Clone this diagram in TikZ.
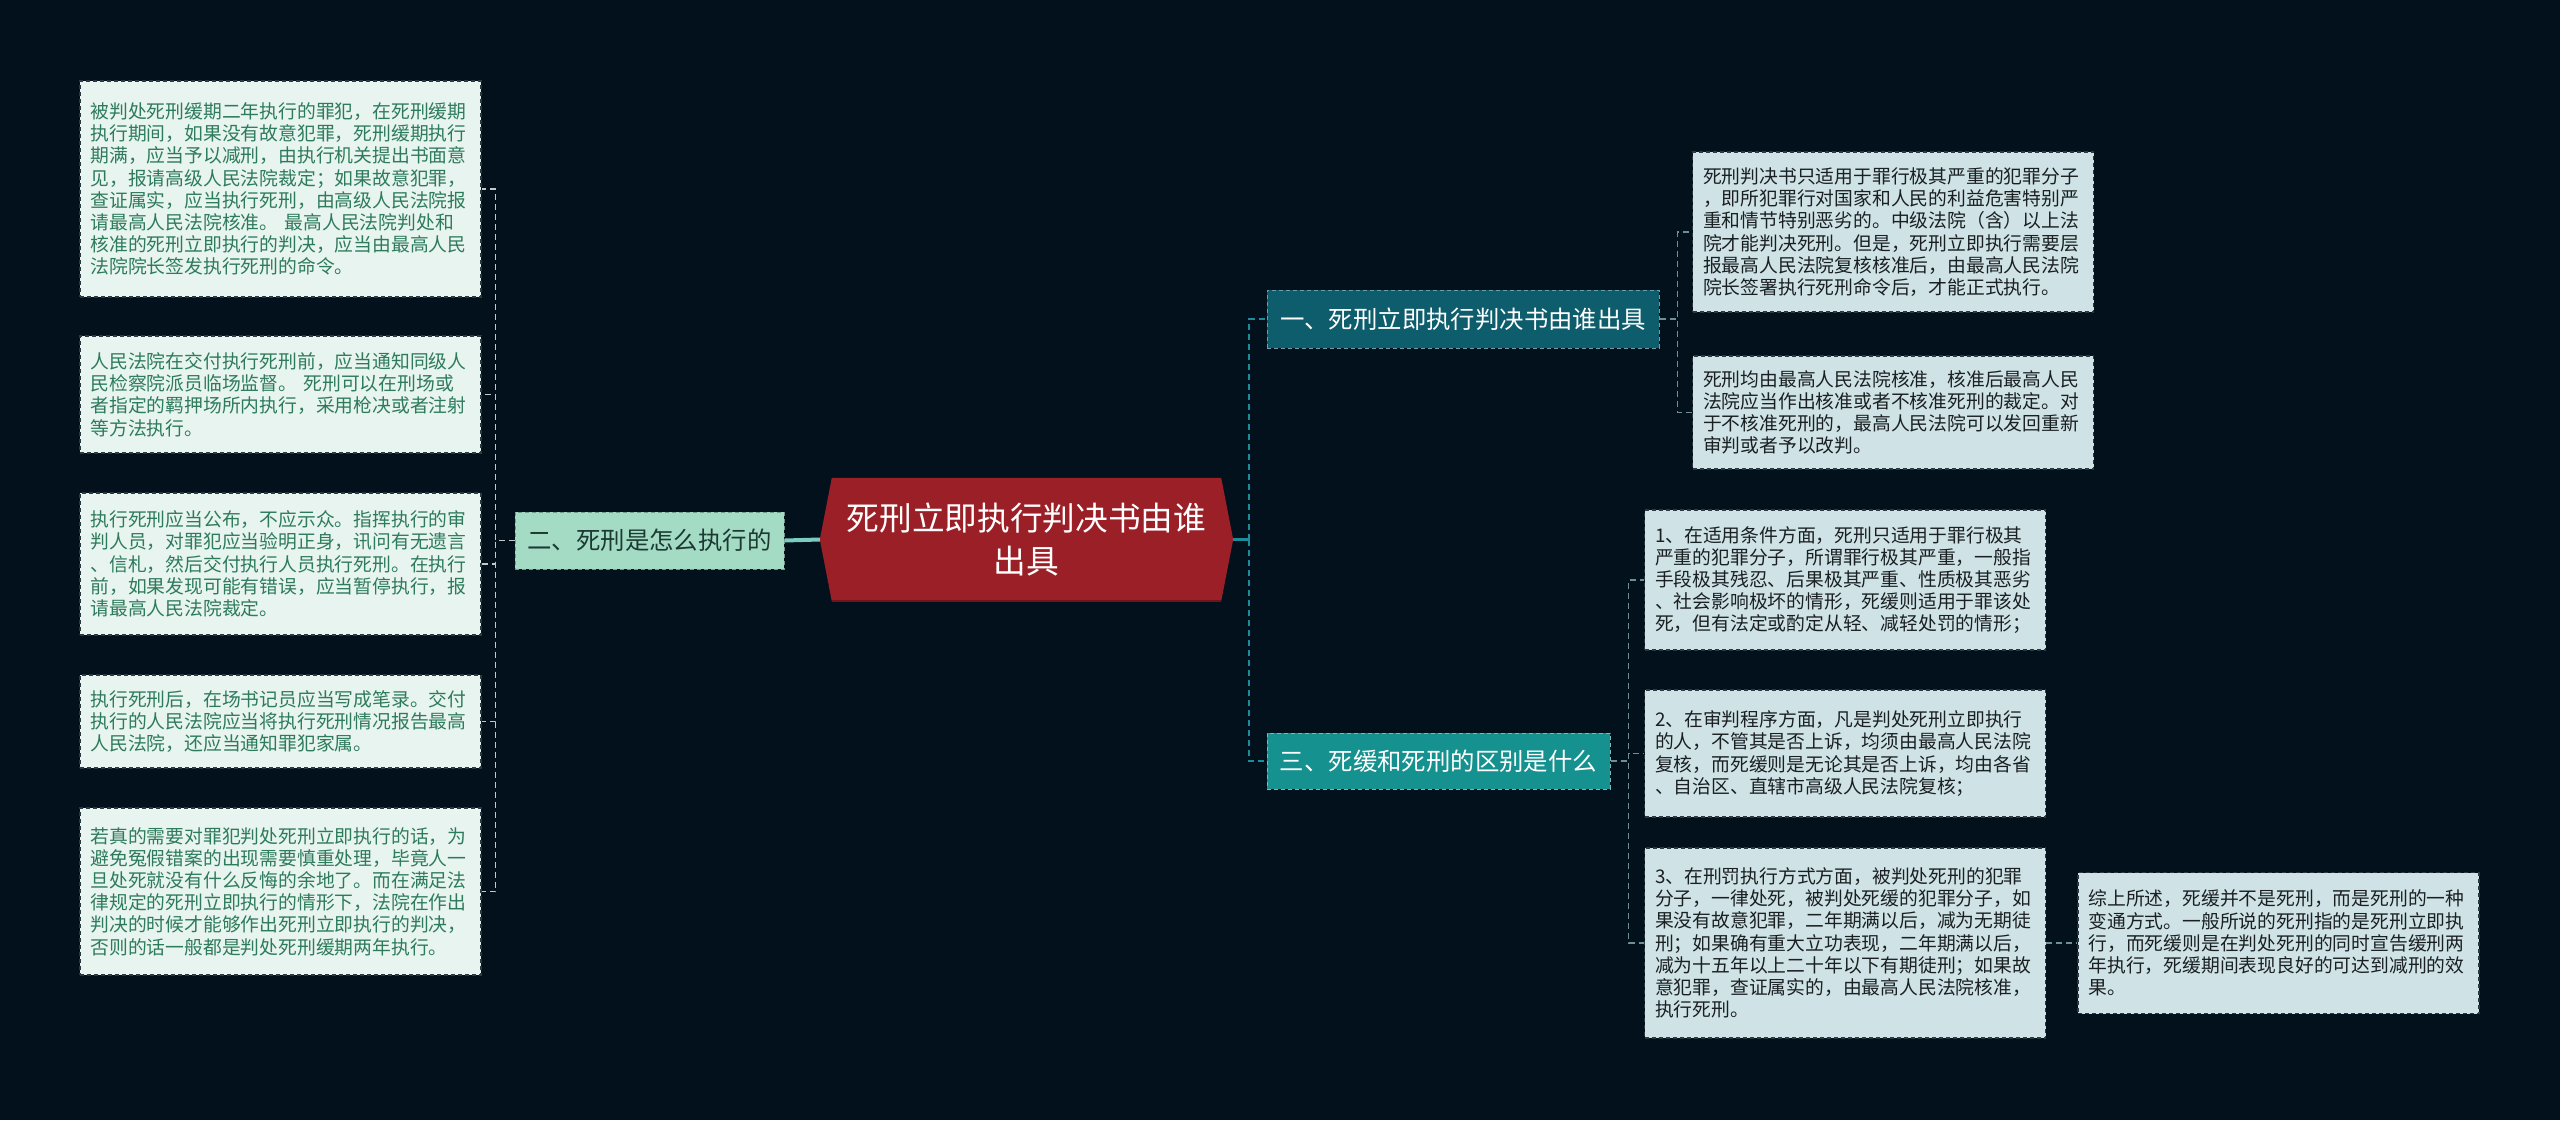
\documentclass[tikz,border=0pt]{standalone}
\usepackage{fontspec}
\setmainfont{Noto Sans CJK SC}
\usetikzlibrary{backgrounds}
\definecolor{bg}{HTML}{02111B}
\definecolor{rootfill}{HTML}{9B1F26}
\definecolor{bonefill}{HTML}{0D5D6C}
\definecolor{bthreefill}{HTML}{15918F}
\definecolor{btwofill}{HTML}{A3DBC5}
\definecolor{btwotext}{HTML}{1C3A32}
\definecolor{lleaffill}{HTML}{E7F4EF}
\definecolor{lleaftext}{HTML}{2E7B5C}
\definecolor{rleaffill}{HTML}{CFE3E6}
\definecolor{rleaftext}{HTML}{1A1F22}
\definecolor{leafborder}{HTML}{2A3A40}
\definecolor{rbus}{HTML}{1C8B9A}
\definecolor{rlink}{HTML}{6F8F96}
\definecolor{llink}{HTML}{C4CACA}
\definecolor{rootlink}{HTML}{7CCBC0}
\tikzset{
  leafbase/.style={draw=leafborder, dash pattern=on 4pt off 3pt, line width=1.6pt,
    font=\fontsize{18.8}{22.2}\selectfont, align=left, text width=380pt,
    inner xsep=10.5pt, inner ysep=0pt, anchor=center},
  lleaf/.style={leafbase, fill=lleaffill, text=lleaftext},
  rleaf/.style={leafbase, fill=rleaffill, text=rleaftext},
  branch/.style={draw, dash pattern=on 4pt off 3pt, line width=1pt,
    font=\fontsize{24.4}{28}\selectfont, inner xsep=0pt, inner ysep=0pt, anchor=center},
  rconnbus/.style={draw=rbus, dash pattern=on 6pt off 4pt, line width=1.6pt},
  rconn/.style={draw=rlink, dash pattern=on 6pt off 4pt, line width=1.5pt},
  lconn/.style={draw=llink, dash pattern=on 6pt off 4pt, line width=1.5pt},
}
\begin{document}
\begin{tikzpicture}[x=1pt,y=-1pt]
\begin{pgfonlayer}{background}
\fill[bg] (0,0) rectangle (2560,1120);
\end{pgfonlayer}
\useasboundingbox (0,0) rectangle (2560,1120);

% root
\node[minimum width=413pt, minimum height=123pt, inner sep=0pt, align=center,
  text=white, font=\fontsize{32.7}{43.6}\selectfont] (root) at (1026.5,539.5)
  {死刑立即执行判决书由谁\\出具};
\begin{pgfonlayer}{background}
\fill[rootfill] ([xshift=12pt]root.north west) -- ([xshift=-12pt]root.north east)
  -- (root.east) -- ([xshift=-12pt]root.south east) -- ([xshift=12pt]root.south west)
  -- (root.west) -- cycle;
\draw[rootfill!70!black, line width=2pt] ([xshift=12pt]root.south west) -- ([xshift=-12pt]root.south east);
\end{pgfonlayer}

% branches
\node[branch, draw=btwofill!70!black, fill=btwofill, text=btwotext,
  minimum width=269pt, minimum height=57pt] (b2) at (649.5,540.5) {二、死刑是怎么执行的};
\node[branch, draw=bonefill!60!white, fill=bonefill, text=white,
  minimum width=392pt, minimum height=58pt] (b1) at (1463,319) {一、死刑立即执行判决书由谁出具};
\node[branch, draw=bthreefill!60!white, fill=bthreefill, text=white,
  minimum width=343pt, minimum height=56pt] (b3) at (1438.5,761) {三、死缓和死刑的区别是什么};

% left leaves
\node[lleaf, minimum height=216pt] (l1) at (280.5,189) {被判处死刑缓期二年执行的罪犯，在死刑缓期\\执行期间，如果没有故意犯罪，死刑缓期执行\\期满，应当予以减刑，由执行机关提出书面意\\见，报请高级人民法院裁定；如果故意犯罪，\\查证属实，应当执行死刑，由高级人民法院报\\请最高人民法院核准。 最高人民法院判处和\\核准的死刑立即执行的判决，应当由最高人民\\法院院长签发执行死刑的命令。};
\node[lleaf, minimum height=117pt] (l2) at (280.5,394.5) {人民法院在交付执行死刑前，应当通知同级人\\民检察院派员临场监督。 死刑可以在刑场或\\者指定的羁押场所内执行，采用枪决或者注射\\等方法执行。};
\node[lleaf, minimum height=142pt] (l3) at (280.5,564) {执行死刑应当公布，不应示众。指挥执行的审\\判人员，对罪犯应当验明正身，讯问有无遗言\\、信札，然后交付执行人员执行死刑。在执行\\前，如果发现可能有错误，应当暂停执行，报\\请最高人民法院裁定。};
\node[lleaf, minimum height=93pt] (l4) at (280.5,721.5) {执行死刑后，在场书记员应当写成笔录。交付\\执行的人民法院应当将执行死刑情况报告最高\\人民法院，还应当通知罪犯家属。};
\node[lleaf, minimum height=167pt] (l5) at (280.5,891.5) {若真的需要对罪犯判处死刑立即执行的话，为\\避免冤假错案的出现需要慎重处理，毕竟人一\\旦处死就没有什么反悔的余地了。而在满足法\\律规定的死刑立即执行的情形下，法院在作出\\判决的时候才能够作出死刑立即执行的判决，\\否则的话一般都是判处死刑缓期两年执行。};

% right leaves
\node[rleaf, minimum height=160pt] (r1) at (1893,232) {死刑判决书只适用于罪行极其严重的犯罪分子\\，即所犯罪行对国家和人民的利益危害特别严\\重和情节特别恶劣的。中级法院（含）以上法\\院才能判决死刑。但是，死刑立即执行需要层\\报最高人民法院复核核准后，由最高人民法院\\院长签署执行死刑命令后，才能正式执行。};
\node[rleaf, minimum height=113pt] (r2) at (1893,412.5) {死刑均由最高人民法院核准，核准后最高人民\\法院应当作出核准或者不核准死刑的裁定。对\\于不核准死刑的，最高人民法院可以发回重新\\审判或者予以改判。};
\node[rleaf, minimum height=140pt] (r3) at (1845,580) {1、在适用条件方面，死刑只适用于罪行极其\\严重的犯罪分子，所谓罪行极其严重，一般指\\手段极其残忍、后果极其严重、性质极其恶劣\\、社会影响极坏的情形，死缓则适用于罪该处\\死，但有法定或酌定从轻、减轻处罚的情形；};
\node[rleaf, minimum height=127pt] (r4) at (1845,753.5) {2、在审判程序方面，凡是判处死刑立即执行\\的人，不管其是否上诉，均须由最高人民法院\\复核，而死缓则是无论其是否上诉，均由各省\\、自治区、直辖市高级人民法院复核；};
\node[rleaf, minimum height=190pt] (r5) at (1845,943) {3、在刑罚执行方式方面，被判处死刑的犯罪\\分子，一律处死，被判处死缓的犯罪分子，如\\果没有故意犯罪，二年期满以后，减为无期徒\\刑；如果确有重大立功表现，二年期满以后，\\减为十五年以上二十年以下有期徒刑；如果故\\意犯罪，查证属实的，由最高人民法院核准，\\执行死刑。};
\node[rleaf, minimum height=141pt] (r6) at (2278.5,943) {综上所述，死缓并不是死刑，而是死刑的一种\\变通方式。一般所说的死刑指的是死刑立即执\\行，而死缓则是在判处死刑的同时宣告缓刑两\\年执行，死缓期间表现良好的可达到减刑的效\\果。};

% connectors
\draw[draw=rootlink, line width=4pt] (root.west) -- (b2.east);
\draw[draw=rbus, line width=2.5pt] (root.east) -- ++(16,0) coordinate (rb);
\draw[rconnbus] (rb) |- (b1.west);
\draw[rconnbus] (rb) |- (b3.west);
\foreach \l in {l1,l2,l3,l4,l5} {
  \draw[lconn] (b2.west) -- ++(-19,0) |- (\l.east);
}
\foreach \r in {r1,r2} {
  \draw[rconn] (b1.east) -- ++(18,0) |- (\r.west);
}
\foreach \r in {r3,r4,r5} {
  \draw[rconn] (b3.east) -- ++(18,0) |- (\r.west);
}
\draw[rconn] (r5.east) -- (r6.west);
\end{tikzpicture}
\end{document}
